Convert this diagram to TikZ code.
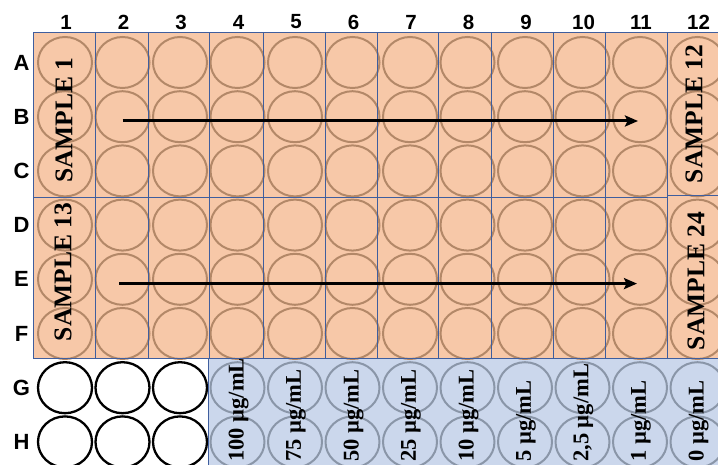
\documentclass[tikz,border=0pt]{standalone}
\usepackage{fontspec}
\setmainfont{Liberation Serif}
\newfontfamily\labfont{Liberation Sans}
\usetikzlibrary{shapes.geometric,arrows.meta}
\definecolor{plateorange}{HTML}{F7C8A8}
\definecolor{plateblue}{HTML}{CBD7EC}
\definecolor{wellbrown}{HTML}{B38868}
\definecolor{wellgrey}{HTML}{8A96A8}
\definecolor{gridblue}{HTML}{3F5E9E}
\begin{document}
\begin{tikzpicture}[x=1pt,y=-1pt,
  well/.style={ellipse, minimum width=54pt, minimum height=51pt, inner sep=0pt, line width=2pt},
  brownwell/.style={well, draw=wellbrown},
  whitewell/.style={well, draw=black, fill=white, line width=2.3pt},
  greywell/.style={well, draw=wellgrey},
  block/.style={draw=gridblue, line width=1pt},
  collab/.style={font=\labfont\bfseries\fontsize{20.5}{20.5}\selectfont, inner sep=0pt},
  rowlab/.style={font=\labfont\bfseries\fontsize{22}{22}\selectfont, inner sep=0pt},
  samplelab/.style={font=\bfseries\fontsize{25.5}{25.5}\selectfont, rotate=90, inner sep=0pt},
  conclab/.style={font=\bfseries\fontsize{22.5}{22.5}\selectfont, rotate=90, anchor=west, inner sep=0pt},
  arr/.style={line width=3pt, -{Stealth[length=13pt,width=11pt,inset=2.5pt]}}]
\useasboundingbox (0,0) rectangle (718,465);
% background blocks
\foreach \a/\b in {33/95,95/148,148/209,209/263,263/325,325/377,377/438,438/491,491/553,553/605,605/667}{
  \fill[plateorange] (\a,33) rectangle (\b,358);
}
\fill[plateorange] (667,33) rectangle (718,358);
\fill[plateblue] (208,358) rectangle (718,465);
% wells
\foreach \r [count=\j from 0] in {A,B,C,D,E,F}{
  \foreach \i in {1,...,12}{
    \pgfmathsetmacro\wx{65+(\i-1)*57.5}
    \pgfmathsetmacro\wy{62.5+\j*54.2}
    \node[brownwell] (w\r\i) at (\wx,\wy) {};
  }
}
\foreach \r [count=\j from 6] in {G,H}{
  \foreach \i in {1,2,3}{
    \pgfmathsetmacro\wx{65+(\i-1)*57.5}
    \pgfmathsetmacro\wy{62.5+\j*54.2}
    \node[whitewell] (w\r\i) at (\wx,\wy) {};
  }
  \foreach \i in {4,...,12}{
    \pgfmathsetmacro\wx{65+(\i-1)*57.5}
    \pgfmathsetmacro\wy{62.5+\j*54.2}
    \node[greywell] (w\r\i) at (\wx,\wy) {};
  }
}
% grid lines
\foreach \a/\b in {33/95,95/148,148/209,209/263,263/325,325/377,377/438,438/491,491/553,553/605,605/667}{
  \draw[block] (\a,33) rectangle (\b,198);
  \draw[block] (\a,198) rectangle (\b,358);
}
\draw[block] (667,33) -- (718,33);
\draw[block] (667,196) -- (718,196);
\draw[block] (667,358) -- (718,358);
\draw[block] (208,465) -- (208,358) -- (718,358);
% column labels
\foreach \i in {1,...,12}{
  \pgfmathsetmacro\wx{66+(\i-1)*57.5}
  \node[collab] (c\i) at (\wx,22) {\i};
}
% row labels
\foreach \r [count=\j from 0] in {A,B,C,D,E,F,G,H}{
  \pgfmathsetmacro\wy{62.5+\j*54.2}
  \node[rowlab] (r\r) at (21.5,\wy) {\r};
}
% sample labels
\node[samplelab] (s1) at (64,120) {SAMPLE 1};
\node[samplelab] (s12) at (694,114) {SAMPLE 12};
\node[samplelab] (s13) at (63,272) {SAMPLE 13};
\node[samplelab] (s24) at (696,281) {SAMPLE 24};
% concentrations
\node[conclab] (k4) at ([xshift=1pt]wH4.center |- 0,462) {100 µg/mL};
\node[conclab] (k5) at ([xshift=1pt]wH5.center |- 0,462) {75 µg/mL};
\node[conclab] (k6) at ([xshift=1pt]wH6.center |- 0,462) {50 µg/mL};
\node[conclab] (k7) at ([xshift=1pt]wH7.center |- 0,462) {25 µg/mL};
\node[conclab] (k8) at ([xshift=1pt]wH8.center |- 0,462) {10 µg/mL};
\node[conclab] (k9) at ([xshift=1pt]wH9.center |- 0,462) {5 µg/mL};
\node[conclab] (k10) at ([xshift=1pt]wH10.center |- 0,462) {2,5 µg/mL};
\node[conclab] (k11) at ([xshift=1pt]wH11.center |- 0,462) {1 µg/mL};
\node[conclab] (k12) at ([xshift=1pt]wH12.center |- 0,462) {0 µg/mL};
% arrows
\draw[arr] ([yshift=-4.3pt]wB2.center) -- ([xshift=-2pt,yshift=-4.3pt]wB11.center);
\draw[arr] ([xshift=-3.5pt,yshift=-4.3pt]wE2.center) -- ([xshift=-3pt,yshift=-4.3pt]wE11.center);
\end{tikzpicture}
\end{document}
